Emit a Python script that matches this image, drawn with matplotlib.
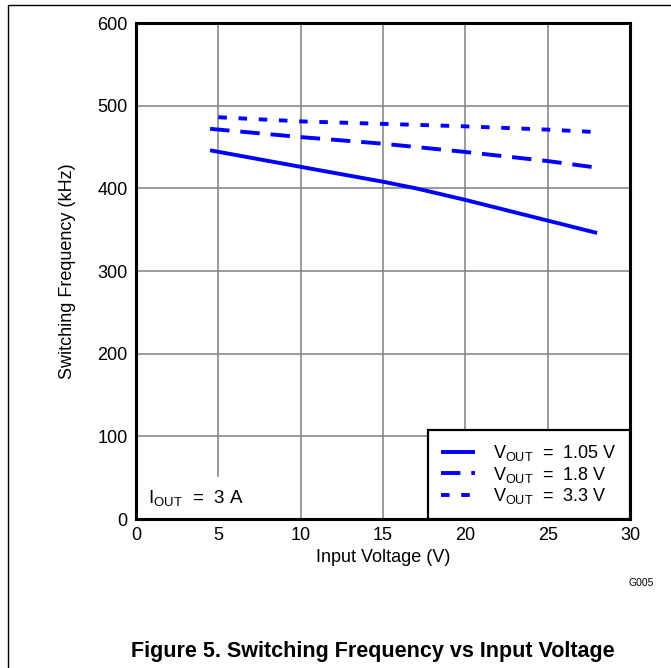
import matplotlib
matplotlib.use("Agg")
import matplotlib.pyplot as plt
from matplotlib.patches import Rectangle

plt.rcParams['font.family'] = ['Liberation Sans', 'DejaVu Sans']
plt.rcParams['mathtext.fontset'] = 'custom'
plt.rcParams['mathtext.rm'] = 'Liberation Sans'
plt.rcParams['mathtext.it'] = 'Liberation Sans'

# Data
vin = [4.5, 10, 15, 17, 20, 25, 28]
f_105 = [446, 426, 408, 400, 386, 361, 346]
vin_18 = [4.5, 10, 15, 20, 25, 28]
f_18 = [472, 462, 454, 444, 433, 425]
vin_33 = [5, 10, 15, 20, 25, 28]
f_33 = [486, 481, 478, 475, 471, 468]

labels = [r'V$_{\rm OUT}$  =  1.05 V', r'V$_{\rm OUT}$  =  1.8 V', r'V$_{\rm OUT}$  =  3.3 V']
xticks = [0, 5, 10, 15, 20, 25, 30]
yticks = [0, 100, 200, 300, 400, 500, 600]

W, H = 671, 668
fig = plt.figure(figsize=(W/100, H/100), dpi=100)
ax = fig.add_axes([136/W, 1-519/H, (630-136)/W, (519-23)/H])

blue = '#0000ff'
ax.plot(vin, f_105, color=blue, lw=2.8, solid_capstyle='butt', label=labels[0], zorder=3)
ax.plot(vin_18, f_18, color=blue, lw=2.8, dashes=(5.0, 2.8), dash_capstyle='butt', label=labels[1], zorder=3)
ax.plot(vin_33, f_33, color=blue, lw=2.8, dashes=(2.2, 3.0), dash_capstyle='butt', label=labels[2], zorder=3)

ax.set_xlim(0, 30)
ax.set_ylim(0, 600)
ax.set_xticks(xticks)
ax.set_yticks(yticks)
ax.tick_params(length=0, labelsize=13, pad=6)
ax.grid(True, color='#808080', lw=1.1)
ax.set_axisbelow(True)
for s in ax.spines.values():
    s.set_linewidth(2.2)
    s.set_color('black')
    s.set_zorder(5)

ax.set_xlabel('Input Voltage (V)', fontsize=13, labelpad=3)
ax.set_ylabel('Switching Frequency (kHz)', fontsize=13, labelpad=15)

leg = ax.legend(loc='lower right', borderaxespad=0, fontsize=13, handlelength=1.9,
                labelspacing=0.07, fancybox=False, framealpha=1, edgecolor='black',
                borderpad=0.72, handletextpad=1.0)
leg.get_frame().set_linewidth(1.6)
leg.set_zorder(6)

ax.text(0.75, 25, r'I$_{\rm OUT}$  =  3 A', fontsize=13.5, va='center', ha='left',
        bbox=dict(facecolor='white', edgecolor='none', pad=8), zorder=4)

fig.text(641/W, 1-583/H, 'G005', fontsize=7.5, ha='center', va='center')
fig.text(373/W, 1-651/H, 'Figure 5. Switching Frequency vs Input Voltage', fontsize=15.5,
         fontweight='bold', ha='center', va='center')

fig.patches.append(Rectangle((8/W, -0.1), 1.2, (H-5)/H + 0.1, transform=fig.transFigure,
                             fill=False, edgecolor='black', lw=1.0))

fig.savefig('out.png', dpi=100)
